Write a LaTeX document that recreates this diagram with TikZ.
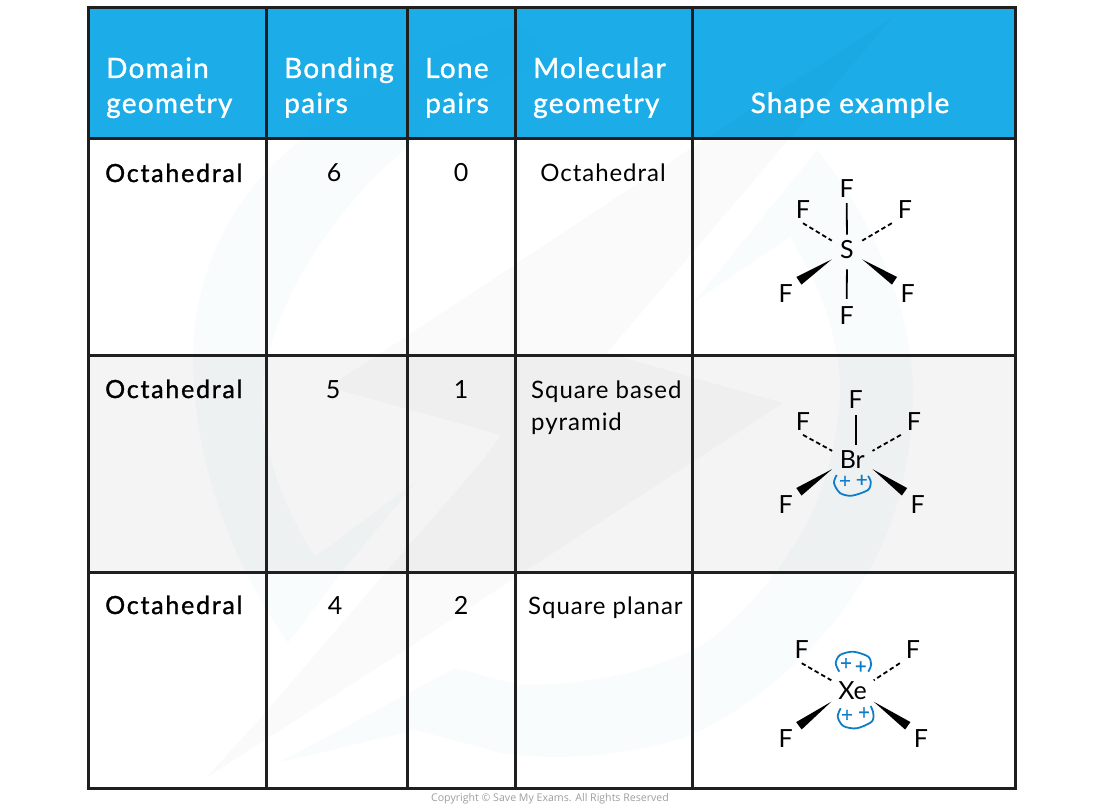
\documentclass[tikz,border=0pt]{standalone}
\usepackage{fontspec}
\setmainfont{Lato}
\newfontfamily\headfont[LetterSpace=4.5,FakeBold=1.2]{Lato}
\newfontfamily\cellfont[LetterSpace=4]{Lato}
\newfontfamily\keyfont[LetterSpace=7,FakeBold=1.2]{Lato}
\newfontfamily\notefont{Open Sans}
\usetikzlibrary{calc}
\definecolor{headblue}{HTML}{1CADE9}
\definecolor{rowgrey}{HTML}{F4F4F4}
\definecolor{gridline}{HTML}{1F1F1F}
\definecolor{pairblue}{HTML}{0F7CC8}
\definecolor{markblue}{HTML}{0078BE}
\tikzstyle{head} = [anchor=base west, inner sep=0, text=white, font=\headfont\fontsize{28}{34}\selectfont]
\tikzstyle{key} = [anchor=base west, inner sep=0, font=\keyfont\fontsize{25}{30}\selectfont]
\tikzstyle{cell} = [anchor=base west, inner sep=0, font=\cellfont\fontsize{24}{30}\selectfont]
\tikzstyle{num} = [anchor=base, inner sep=0, font=\cellfont\fontsize{25}{30}\selectfont]
\tikzstyle{atom} = [inner sep=0, font=\fontsize{25}{25}\selectfont]
\tikzstyle{fluor} = [atom, minimum width=26pt, minimum height=26pt]
\tikzstyle{bond} = [draw, line width=1.8pt]
\tikzstyle{back} = [draw, line width=1.8pt, dash pattern=on 4.5pt off 3pt]
\tikzstyle{lobe} = [draw=pairblue, line width=1.8pt]
\tikzstyle{plus} = [inner sep=0, text=pairblue, font=\headfont\fontsize{20}{20}\selectfont]
\tikzstyle{markb} = [fill=markblue, fill opacity=0.022]
\tikzstyle{markg} = [fill=black, fill opacity=0.02]
\newcommand{\wedgebond}[2]{\fill ($(#2)!4.6pt!90:(#1)$) -- (#1) -- ($(#2)!4.6pt!-90:(#1)$) -- cycle;}
\begin{document}
\begin{tikzpicture}[x=1pt, y=-1pt]
\useasboundingbox (0,0) rectangle (1100,810);
\fill [headblue] (88,8) rectangle (1015,139);
\fill [rowgrey] (88,355) rectangle (1015,572);
% watermark
\path [markb] (288,643) .. controls (230,560) and (193,460) .. (193,357)
  .. controls (193,270) and (235,190) .. (301,140) .. controls (350,90) and (420,50) .. (520,25)
  -- (560,60) .. controls (480,80) and (440,115) .. (405,150)
  .. controls (330,210) and (262,320) .. (262,400) .. controls (262,450) and (285,510) .. (315,557)
  -- (418,480) -- (341,573) -- cycle;
\path [markb] (817,150) .. controls (860,200) and (913,300) .. (913,390)
  .. controls (913,460) and (895,530) .. (867,573) .. controls (830,640) and (760,705) .. (687,737)
  .. controls (630,755) and (560,762) .. (501,753) -- (415,730) -- (278,763) -- (455,668)
  -- (520,685) .. controls (580,685) and (640,675) .. (693,650) .. controls (740,625) and (800,550) .. (820,493)
  .. controls (835,450) and (845,400) .. (837,357) .. controls (830,310) and (810,270) .. (790,237)
  -- (693,303) -- cycle;
\path [markg] (893,17) -- (607,353) -- (783,403) -- (530,568) -- (405,650) -- (265,740)
  -- (206,778) -- (265,713) -- (405,550) -- (483,460) -- (501,435) -- (328,387) -- (381,353)
  -- (693,147) -- cycle;
% table grid
\foreach \gx in {88,266,407,515,692,1015}
  \draw [gridline, line width=3pt] (\gx,6.5) -- (\gx,789.5);
\foreach \gy in {8,139,355,572,788}
  \draw [gridline, line width=3pt] (86.5,\gy) -- (1016.5,\gy);
% header
\node [head] (domain) at (106,78) {Domain};
\node [head] (domgeo) at (106,113) {geometry};
\node [head] (bonding) at (284,78) {Bonding};
\node [head] (bondpairs) at (284,113) {pairs};
\node [head] (lone) at (425,78) {Lone};
\node [head] (lonepairs) at (425,113) {pairs};
\node [head] (molecular) at (533,78) {Molecular};
\node [head] (molgeo) at (533,113) {geometry};
\node [head, anchor=base] (shape) at (850,113) {Shape example};
% rows
\node [key] (octa) at (105,182) {Octahedral};
\node [key] (octb) at (105,398) {Octahedral};
\node [key] (octc) at (105,614) {Octahedral};
\node [num] (bpa) at (334,182) {6};
\node [num] (bpb) at (333,398) {5};
\node [num] (bpc) at (335,614) {4};
\node [num] (lpa) at (461,182) {0};
\node [num] (lpb) at (461,398) {1};
\node [num] (lpc) at (461,614) {2};
\node [cell, anchor=base] (mola) at (603,182) {Octahedral};
\node [cell] (molb) at (531,398) {Square based};
\node [cell] (molbb) at (531,430) {pyramid};
\node [cell] (molc) at (528,614) {Square planar};
% sulfur
\node [atom, minimum width=30pt, minimum height=15pt] (S) at (847,250) {S};
\node [fluor] (sa) at (846.7,189) {F};
\node [fluor] (sb) at (803,210) {F};
\node [fluor] (sc) at (905,210) {F};
\node [fluor] (sd) at (785.7,294) {F};
\node [fluor] (se) at (907.7,294) {F};
\node [fluor] (sf) at (846.7,316) {F};
\path [bond, shorten >=6pt, shorten <=1pt] (sa.south) -- (S.north);
\path [bond, shorten <=10pt, shorten >=4pt] (S.south) -- (sf.north);
\path [back] (sb.south) -- (S.north west);
\path [back] (sc.south west) -- (S.north east);
\wedgebond{S.south west}{sd.north east}
\wedgebond{S.south east}{se.north west}
% bromine
\node [atom, minimum width=40pt, minimum height=16pt] (Br) at (852.3,460) {Br};
\node [fluor] (ba) at (855.7,400) {F};
\node [fluor] (bb) at (803,421.7) {F};
\node [fluor] (bc) at (914,421.7) {F};
\node [fluor] (bd) at (785.7,505) {F};
\node [fluor] (be) at (917.7,505) {F};
\path [bond, shorten >=6pt, shorten <=2pt] (ba.south) -- (ba.south |- Br.north);
\path [back] (bb.south) -- (Br.north west);
\path [back] (bc.south west) -- (Br.north east);
\wedgebond{Br.south west}{bd.north east}
\wedgebond{Br.south east}{be.north west}
\path [lobe] plot [smooth] coordinates {(836.7,475) (834,483) (840,493) (851.7,495.7) (868,490) (870.7,481.7) (868,476)};
\node [plus] (bpla) at (845,481.7) {+};
\node [plus] (bplb) at (861.7,480.7) {+};
% xenon
\node [atom, minimum width=42pt, minimum height=21pt] (Xe) at (852.5,691) {Xe};
\node [fluor] (xa) at (801.7,650) {F};
\node [fluor] (xb) at (913,650) {F};
\node [fluor] (xc) at (785.7,739) {F};
\node [fluor] (xd) at (921,739) {F};
\path [back] (xa.south) -- (Xe.north west);
\path [back] (xb.south west) -- (Xe.north east);
\wedgebond{Xe.south west}{xc.north east}
\wedgebond{Xe.south east}{xd.north west}
\path [lobe] plot [smooth] coordinates {(839.3,671.7) (835.7,663.3) (840,655) (853.3,651.7) (868.3,656.7) (871,665) (868.3,671.7)};
\node [plus] (xpla) at (846,664) {+};
\node [plus] (xplb) at (860.7,667.3) {+};
\path [lobe] plot [smooth] coordinates {(840.7,708.3) (837.7,716.7) (843.3,726) (856.7,728.3) (871.7,721.7) (873.3,713.3) (870.7,706)};
\node [plus] (xplc) at (847,715.7) {+};
\node [plus] (xpld) at (864,713.3) {+};
\node [inner sep=0, text=black!38, font=\notefont\fontsize{10.6}{12}\selectfont] (copy) at (550,799) {Copyright © Save My Exams. All Rights Reserved};
\end{tikzpicture}
\end{document}
